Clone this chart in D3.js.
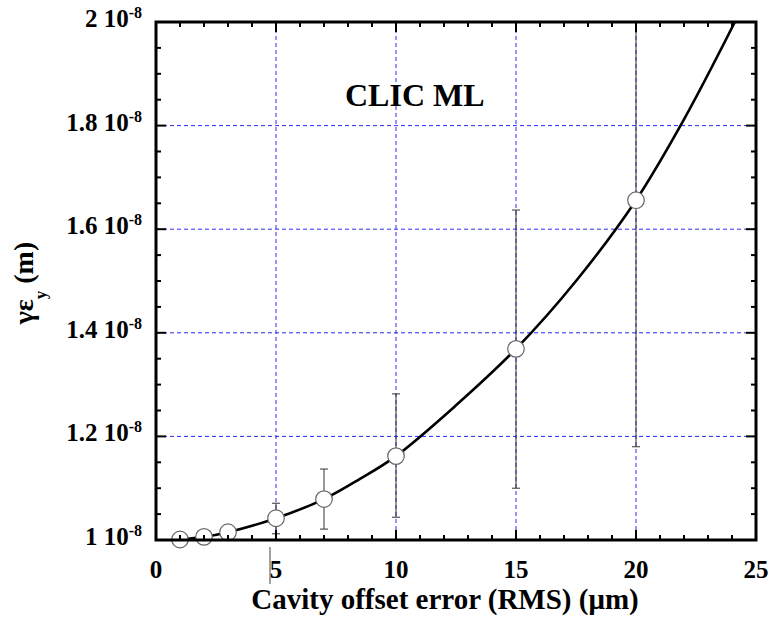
<!DOCTYPE html>
<html>
<head>
<meta charset="utf-8">
<script src="https://cdn.jsdelivr.net/npm/d3@7/dist/d3.min.js"></script>
<style>
  html, body { margin: 0; padding: 0; background: #fff; }
  svg { display: block; }
  text { font-family: "Liberation Serif", "Times New Roman", serif; font-weight: bold; fill: #000; }
</style>
</head>
<body>
<svg id="chart" width="776" height="630"></svg>
<script>
// Cavity offset error (RMS, µm) vs. vertical normalised emittance
const offsets   = [1, 2, 3, 5, 7, 10, 15, 20];
const emittance = [1.001e-8, 1.006e-8, 1.015e-8, 1.042e-8, 1.079e-8, 1.162e-8, 1.369e-8, 1.656e-8];
const errLow    = [null, null, null, 1.012e-8, 1.021e-8, 1.044e-8, 1.100e-8, 1.180e-8];
const errHigh   = [null, null, null, 1.071e-8, 1.137e-8, 1.282e-8, 1.637e-8, 2.130e-8];

// Smooth fit through the simulated points
const fitX = [1, 2, 3, 5, 7, 8.5, 10, 12.5, 15, 17.5, 20, 22, 24.12];
const fitY = [1.001e-8, 1.006e-8, 1.015e-8, 1.042e-8, 1.079e-8, 1.118e-8, 1.162e-8, 1.260e-8,
              1.369e-8, 1.500e-8, 1.656e-8, 1.812e-8, 2.000e-8];

// Axis ticks and labels
const xTicks = [0, 5, 10, 15, 20, 25];
const yTicks = [1e-8, 1.2e-8, 1.4e-8, 1.6e-8, 1.8e-8, 2e-8];
const yTickMantissa = ["1", "1.2", "1.4", "1.6", "1.8", "2"];
const yTickExponent = "-8";

const svg = d3.select("#chart");
const L = 156, R = 756, T = 22, B = 540;

const x = d3.scaleLinear().domain([0, 25]).range([L, R]);
const y = d3.scaleLinear().domain([1e-8, 2e-8]).range([B, T]);

svg.append("defs").append("clipPath").attr("id", "plotClip")
  .append("rect").attr("x", L).attr("y", T).attr("width", R - L).attr("height", B - T);

// Dashed blue grid at the major ticks
const grid = svg.append("g").attr("stroke", "#2a2af5").attr("stroke-width", 1)
  .attr("stroke-dasharray", "4,3").attr("fill", "none");
grid.selectAll("line.v").data(xTicks.slice(1, -1)).join("line")
  .attr("class", "v")
  .attr("x1", d => x(d)).attr("x2", d => x(d)).attr("y1", T).attr("y2", B);
grid.selectAll("line.h").data(yTicks.slice(1, -1)).join("line")
  .attr("class", "h")
  .attr("x1", L).attr("x2", R).attr("y1", d => y(d)).attr("y2", d => y(d));

// Error bars
const bars = offsets.map((o, i) => ({ x: o, lo: errLow[i], hi: errHigh[i] })).filter(d => d.lo !== null);
const eb = svg.append("g").attr("clip-path", "url(#plotClip)")
  .attr("stroke", "#333").attr("stroke-width", 1).attr("fill", "none");
eb.selectAll("line.stem").data(bars).join("line").attr("class", "stem")
  .attr("x1", d => x(d.x)).attr("x2", d => x(d.x)).attr("y1", d => y(d.lo)).attr("y2", d => y(d.hi));
eb.selectAll("line.capLo").data(bars).join("line").attr("class", "capLo")
  .attr("x1", d => x(d.x) - 4).attr("x2", d => x(d.x) + 4).attr("y1", d => y(d.lo)).attr("y2", d => y(d.lo));
eb.selectAll("line.capHi").data(bars).join("line").attr("class", "capHi")
  .attr("x1", d => x(d.x) - 4).attr("x2", d => x(d.x) + 4).attr("y1", d => y(d.hi)).attr("y2", d => y(d.hi));

// Fit curve
const line = d3.line().x(d => x(d[0])).y(d => y(d[1])).curve(d3.curveCatmullRom.alpha(0.5));
svg.append("path")
  .datum(fitX.map((v, i) => [v, fitY[i]]))
  .attr("clip-path", "url(#plotClip)")
  .attr("d", line).attr("fill", "none").attr("stroke", "#000").attr("stroke-width", 2.6);

// Markers
svg.append("g").selectAll("circle").data(offsets.map((o, i) => [o, emittance[i]])).join("circle")
  .attr("cx", d => x(d[0])).attr("cy", d => y(d[1])).attr("r", 8.3)
  .attr("fill", "#fff").attr("stroke", "#666").attr("stroke-width", 1.2);

// Frame with inward ticks on all four sides
const ax = svg.append("g").attr("stroke", "#000").attr("fill", "none");
const xMinor = d3.range(0, 26, 1);
const yMinor = d3.range(0, 21, 1).map(k => 1e-8 + k * 0.05e-8);
const isMajorX = v => v % 5 === 0;
const isMajorY = v => Math.abs(Math.round(v / 0.2e-8) * 0.2e-8 - v) < 1e-12;

ax.selectAll("line.xb").data(xMinor).join("line").attr("class", "xb").attr("stroke-width", 2)
  .attr("x1", d => x(d)).attr("x2", d => x(d)).attr("y1", B).attr("y2", d => B - (isMajorX(d) ? 10 : 5));
ax.selectAll("line.xt").data(xMinor).join("line").attr("class", "xt").attr("stroke-width", 2)
  .attr("x1", d => x(d)).attr("x2", d => x(d)).attr("y1", T).attr("y2", d => T + (isMajorX(d) ? 10 : 5));
ax.selectAll("line.yl").data(yMinor).join("line").attr("class", "yl").attr("stroke-width", 2)
  .attr("y1", d => y(d)).attr("y2", d => y(d)).attr("x1", L).attr("x2", d => L + (isMajorY(d) ? 10 : 5));
ax.selectAll("line.yr").data(yMinor).join("line").attr("class", "yr").attr("stroke-width", 2)
  .attr("y1", d => y(d)).attr("y2", d => y(d)).attr("x1", R).attr("x2", d => R - (isMajorY(d) ? 10 : 5));
ax.append("rect").attr("x", L).attr("y", T).attr("width", R - L).attr("height", B - T)
  .attr("stroke-width", 3);

// Small vertical mark under the axis near x = 5
svg.append("line").attr("x1", x(4.75)).attr("x2", x(4.75)).attr("y1", B + 7).attr("y2", B + 44)
  .attr("stroke", "#444").attr("stroke-width", 1);

// X tick labels
svg.append("g").selectAll("text").data(xTicks).join("text")
  .attr("x", d => x(d)).attr("y", B + 38).attr("text-anchor", "middle")
  .attr("font-size", 25).text(d => d);

// Y tick labels in "m 10^-8" form
const yl = svg.append("g").selectAll("text").data(yTicks).join("text")
  .attr("x", 142).attr("y", d => y(d) + 5).attr("text-anchor", "end").attr("font-size", 25);
yl.append("tspan").text((d, i) => yTickMantissa[i] + " 10");
yl.append("tspan").attr("dy", -9).attr("font-size", 16).text(yTickExponent);

// Axis titles
svg.append("text").attr("x", 445).attr("y", 609).attr("text-anchor", "middle")
  .attr("font-size", 29).text("Cavity offset error (RMS) (\u03bcm)");

const yt = svg.append("text").attr("transform", "translate(33,283) rotate(-90)")
  .attr("text-anchor", "middle").attr("font-size", 28);
yt.append("tspan").text("\u03b3\u03b5");
yt.append("tspan").attr("dy", 13).attr("font-size", 17).text("y");
yt.append("tspan").attr("dy", -13).text(" (m)");

// Plot label
svg.append("text").attr("x", 345).attr("y", 106).attr("font-size", 32).text("CLIC ML");
</script>
</body>
</html>
